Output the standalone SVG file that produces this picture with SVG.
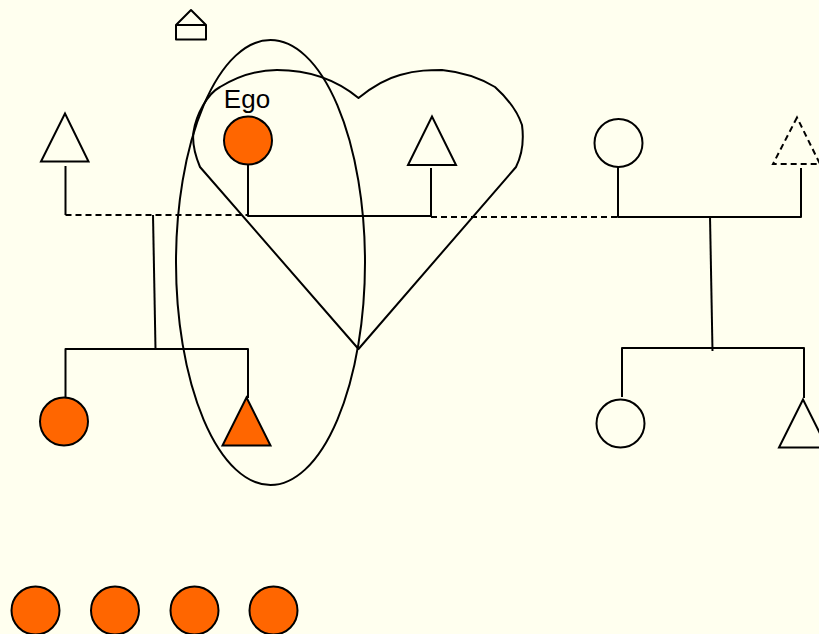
<svg xmlns="http://www.w3.org/2000/svg" width="819" height="634" viewBox="0 0 819 634">
<style>
.l{fill:none;stroke:#000;stroke-width:2;stroke-linejoin:round}
.w{fill:#ffffef;stroke:#000;stroke-width:2;stroke-linejoin:miter}
.o{fill:#f60;stroke:#000;stroke-width:2;stroke-linejoin:miter}
.d{stroke-dasharray:6 4}
text{font-family:"Liberation Sans",Arial,sans-serif;font-size:26px;fill:#000}
</style>
<rect width="819" height="634" fill="#ffffef"/>
<g id="connectors">
<path class="l" d="M65.500 166V215"/>
<path class="l d" d="M65.500 215H247"/>
<path class="l" d="M248 165V216H431V168"/>
<path class="l d" d="M431 217H618"/>
<path class="l" d="M618 167V217H801V168"/>
<path class="l" d="M153 215L155.500 349"/>
<path class="l" d="M65.500 398V349H248V398"/>
<path class="l" d="M710 216L712.500 351"/>
<path class="l" d="M622 397V348H804V398"/>
</g>
<g id="house"><path class="l" d="M176 25L191 10L206 25V39.500H176Z M176 25H206"/></g>
<g id="ellipse-group"><ellipse class="l" cx="270.500" cy="262.500" rx="94.500" ry="222.500"/></g>
<g id="heart"><path class="l" d="M358.500 349L200 167C195 155 192 143 193.500 132C196 115 207 94 220 87C238 76 258 70 277 70C305 70 333 77 358.500 98C372 87 385 79 400 75C418 70 430 70 442 70C462 72 480 78 495 87C505 96 517 110 522 125C524 140 522 155 516 167Z"/></g>
<g id="ego"><circle class="o" cx="248" cy="140.500" r="24"/><text x="247" y="108" text-anchor="middle">Ego</text></g>
<g id="n-tri-left"><path class="w" d="M65 113.500L41 161.500H88.500Z"/></g>
<g id="n-tri-mid"><path class="w" d="M432 116.500L408 165H456Z"/></g>
<g id="n-circ-top"><circle class="w" cx="618.500" cy="143" r="24"/></g>
<g id="n-tri-dash"><path class="w d" d="M797 117.500L773 164H820Z"/></g>
<g id="n-circ-lower-left"><circle class="o" cx="64" cy="421.500" r="24"/></g>
<g id="n-tri-lower-left"><path class="o" d="M246.500 397.500L222.500 445.500H270.500Z"/></g>
<g id="n-circ-lower-right"><circle class="w" cx="620.500" cy="423.500" r="24"/></g>
<g id="n-tri-lower-right"><path class="w" d="M803 399.500L779 447.500H827Z"/></g>
<g id="n-b1"><circle class="o" cx="35.500" cy="610.500" r="24"/></g>
<g id="n-b2"><circle class="o" cx="115" cy="610.500" r="24"/></g>
<g id="n-b3"><circle class="o" cx="194.500" cy="610.500" r="24"/></g>
<g id="n-b4"><circle class="o" cx="273.500" cy="610.500" r="24"/></g>
</svg>
